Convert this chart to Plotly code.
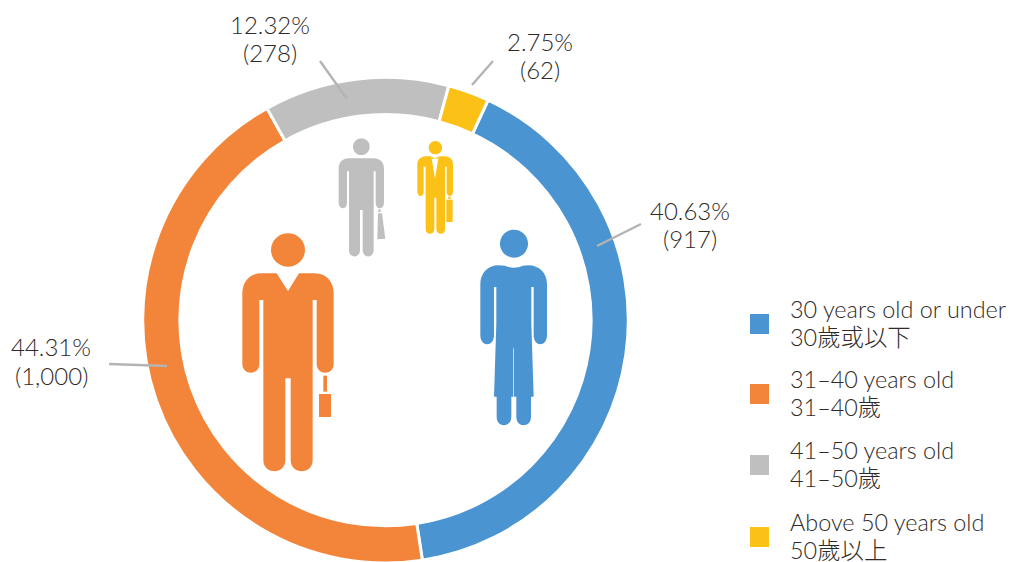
import re
import plotly.graph_objects as go

W, H = 1011, 562
FIG_H = 570  # page clips at the window; leaves room for the ring's lower edge

# ---- data ----
legend_en = ["30 years old or under", "31–40 years old", "41–50 years old", "Above 50 years old"]
legend_zh = ["30歲或以下", "31–40歲", "41–50歲", "50歲以上"]
counts = [917, 1000, 278, 62]
percents = ["40.63", "44.31", "12.32", "2.75"]
colors = ["#4A94D1", "#F2853A", "#BFBFBF", "#FBC116"]

# ---- layout helpers ----
FONT = "Lato, 'Noto Sans CJK TC', sans-serif"
TEXT = "#2F2A28"
FS_LABEL = 24
FS_LEGEND = 23.4
LEADER = "#B4B4B4"

label_xy = [(690, 224.5), (51, 360.5), (270, 38.5), (540, 55.5)]
leader_xy = [((641, 224), (597, 246)), ((109, 364), (167, 366)),
             ((320, 61), (347, 99)), ((493, 61), (472, 85))]
legend_y = [324, 394, 465, 537]


def fx(x):
    return x / W


def fy(y):
    return 1 - y / FIG_H


def zpath(d):
    """Icon outline given in 3x crop coordinates, converted to paper fractions."""
    def conv(m):
        x = float(m.group(1)) / 3 + 220
        y = float(m.group(2)) / 3 + 130
        return f"{fx(x):.5f},{fy(y):.5f}"
    return re.sub(r"(-?[\d.]+),(-?[\d.]+)", conv, d)


def icon(d, color):
    return dict(type="path", xref="paper", yref="paper", path=zpath(d),
                fillcolor=color, line=dict(width=0), layer="above")


def head(cx, cy, rx, ry, color):
    k = 0.5523
    d = (f"M{cx - rx},{cy} C{cx - rx},{cy - k * ry} {cx - k * rx},{cy - ry} {cx},{cy - ry} "
         f"C{cx + k * rx},{cy - ry} {cx + rx},{cy - k * ry} {cx + rx},{cy} "
         f"C{cx + rx},{cy + k * ry} {cx + k * rx},{cy + ry} {cx},{cy + ry} "
         f"C{cx - k * rx},{cy + ry} {cx - rx},{cy + k * ry} {cx - rx},{cy} Z")
    return icon(d, color)


def text(x, y, s, size, anchor):
    return dict(xref="paper", yref="paper", x=fx(x), y=fy(y),
                xanchor=anchor, yanchor="middle", showarrow=False, text=s,
                font=dict(family=FONT, size=size, color=TEXT, weight=300))


blue, orange, gray, yellow = colors

shapes = [
    # orange man
    head(204, 360, 51, 50, orange),
    icon("M170,430 L204,483 L237,430 L285,430 C318,430 341,455 341,490 L341,702 C341,737 290,737 290,702 "
         "L290,510 L278,510 L278,990 C278,1035 212,1035 212,990 L212,745 L196,745 L196,990 "
         "C196,1035 130,1035 130,990 L130,510 L118,510 L118,702 C118,737 67,737 67,702 L67,490 "
         "C67,455 90,430 125,430 Z", orange),
    icon("M310,737 L321,737 L321,785 L310,785 Z", orange),
    icon("M297,792 L333,792 L333,861 L297,861 Z", orange),
    # blue figure
    head(882, 341, 42, 42, blue),
    icon("M855,407 Q882,420 909,407 L925,406 C958,406 981,430 981,462 L981,615 C981,652 941,652 941,615 "
         "L941,471 L934,471 L934,580 L941,800 L933,800 L933,860 C933,894 889,894 889,860 L889,800 "
         "L882,800 L882,655 L880,655 L880,800 L874,800 L874,860 C874,894 830,894 830,860 L830,800 "
         "L822,800 L829,580 L829,471 L822,471 L822,615 C822,652 781,652 781,615 L781,462 "
         "C781,430 804,406 835,406 Z", blue),
    # gray man
    head(424, 50, 25, 25, gray),
    icon("M385,85 L462,85 C480,85 492,98 492,115 L492,218 C492,240 467,240 467,218 L467,124 L461,124 "
         "L461,360 C461,386 428,386 428,360 L428,240 L420,240 L420,360 C420,386 387,386 387,360 "
         "L387,124 L381,124 L381,218 C381,240 356,240 356,218 L356,115 C356,98 368,85 385,85 Z", gray),
    icon("M475,238 L482,238 L482,246 L475,246 Z", gray),
    icon("M474,250 L486,250 L496,326 L472,328 Z", gray),
    # yellow man
    head(646, 53, 20, 20, yellow),
    icon("M634,79 L645,146 L656,79 L675,79 C690,79 699,90 699,103 L699,185 C699,202 680,202 680,185 "
         "L680,110 L675,110 L675,298 C675,316 649,316 649,298 L649,203 L643,203 L643,298 "
         "C643,316 617,316 617,298 L617,110 L611,110 L611,185 C611,202 592,202 592,185 L592,103 "
         "C592,90 602,79 617,79 Z", yellow),
    icon("M636,81 L645,84 L654,81 L654,87 L645,85 L636,87 Z", yellow),
    icon("M685,200 L692,200 L692,207 L685,207 Z", yellow),
    icon("M679,209 L698,209 L698,276 L679,276 Z", yellow),
]

# leader lines
for (a, b) in leader_xy:
    shapes.append(dict(type="line", xref="paper", yref="paper",
                       x0=fx(a[0]), y0=fy(a[1]), x1=fx(b[0]), y1=fy(b[1]),
                       line=dict(color=LEADER, width=2.4), layer="above"))

annotations = []
for (x, y), p, c in zip(label_xy, percents, counts):
    annotations.append(text(x, y - 14.5, f"{p}%", FS_LABEL, "center"))
    annotations.append(text(x, y + 14.5, f"({c:,})", FS_LABEL, "center"))

for en, zh, col, y in zip(legend_en, legend_zh, colors, legend_y):
    shapes.append(dict(type="rect", xref="paper", yref="paper",
                       x0=fx(750), x1=fx(769), y0=fy(y - 10), y1=fy(y + 10),
                       fillcolor=col, line=dict(width=0), layer="above"))
    annotations.append(text(788, y - 15, en, FS_LEGEND, "left"))
    annotations.append(text(788, y + 13, zh, FS_LEGEND, "left"))

fig = go.Figure(go.Pie(
    labels=legend_en, values=counts, sort=False, direction="clockwise", rotation=25,
    hole=0.847, textinfo="none", hoverinfo="skip", showlegend=False,
    marker=dict(colors=colors, line=dict(color="white", width=3)),
    domain=dict(x=[fx(142.7), fx(628.3)], y=[fy(563), fy(77.4)]),
))
fig.update_layout(width=W, height=FIG_H, margin=dict(l=0, r=0, t=0, b=0),
                  paper_bgcolor="white", shapes=shapes, annotations=annotations)
fig.write_html("out.html", config=dict(displayModeBar=False),
               post_script="document.body.style.margin='0';document.body.style.overflow='hidden';"
                           "document.documentElement.style.overflow='hidden';")
